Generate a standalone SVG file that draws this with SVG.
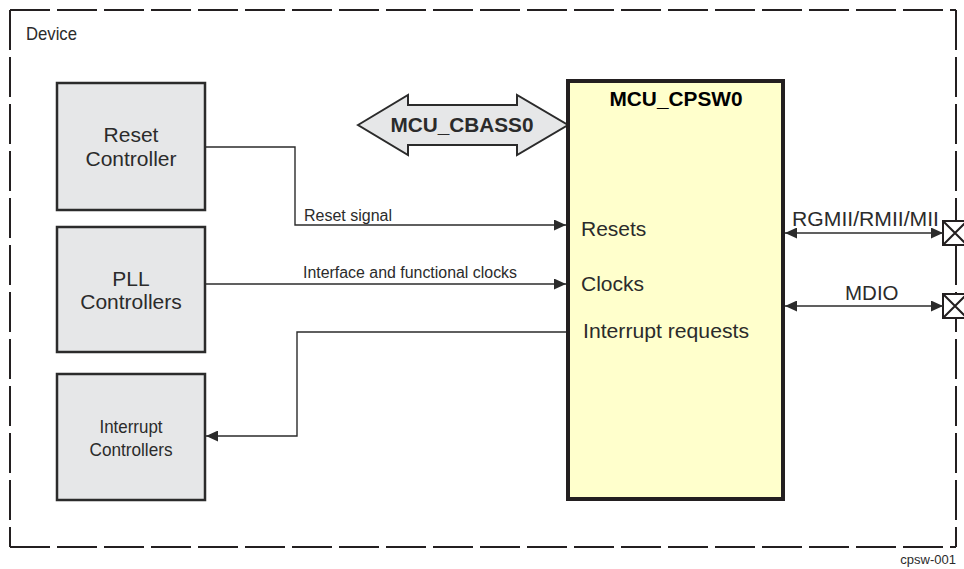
<svg xmlns="http://www.w3.org/2000/svg" width="964" height="569" viewBox="0 0 964 569">
<defs>
<style>
.t{font-family:"Liberation Sans",Arial,sans-serif;fill:#2b2b2b}
.box{fill:#e6e7e8;stroke:#2b2b2b;stroke-width:2.5}
.conn{fill:none;stroke:#2b2b2b;stroke-width:1.4}
.dash{fill:none;stroke:#231f20;stroke-width:2;stroke-dasharray:40 7}
.xb{fill:#fff;stroke:#231f20;stroke-width:2}
</style>
<marker id="ah" viewBox="0 0 12 11" refX="12" refY="5.5" markerWidth="12" markerHeight="11" markerUnits="userSpaceOnUse" orient="auto-start-reverse">
<path d="M0,0 L12,5.5 L0,11 z" fill="#2b2b2b"/>
</marker>
</defs>
<rect width="964" height="569" fill="#fff"/>

<g id="device">
<line class="dash" x1="10" y1="10" x2="956" y2="10"/>
<line class="dash" x1="10" y1="10" x2="10" y2="547"/>
<line class="dash" x1="10" y1="547" x2="956" y2="547"/>
<line class="dash" x1="956" y1="10" x2="956" y2="547"/>
<text class="t" x="26" y="40" font-size="18.5" textLength="51" lengthAdjust="spacingAndGlyphs">Device</text>
</g>

<g id="reset-controller">
<rect class="box" x="57" y="83" width="148" height="127"/>
<text class="t" x="131" y="142" font-size="21" text-anchor="middle">Reset</text>
<text class="t" x="131" y="166" font-size="21" text-anchor="middle">Controller</text>
</g>

<g id="pll-controllers">
<rect class="box" x="57" y="227" width="148" height="125"/>
<text class="t" x="131" y="286" font-size="21" text-anchor="middle">PLL</text>
<text class="t" x="131" y="309" font-size="21" text-anchor="middle">Controllers</text>
</g>

<g id="interrupt-controllers">
<rect class="box" x="57" y="374" width="148" height="126"/>
<text class="t" x="131" y="433" font-size="18.5" text-anchor="middle" textLength="63" lengthAdjust="spacingAndGlyphs">Interrupt</text>
<text class="t" x="131" y="456" font-size="18.5" text-anchor="middle" textLength="83" lengthAdjust="spacingAndGlyphs">Controllers</text>
</g>

<g id="mcu-cbass0">
<polygon points="358,125 408,95 408,105 517,105 517,95 568,125 517,155 517,145 408,145 408,155" fill="#e6e7e8" stroke="#2b2b2b" stroke-width="2" stroke-linejoin="miter"/>
<text class="t" x="462" y="132" font-size="20.5" font-weight="bold" text-anchor="middle" fill="#231f20" textLength="143" lengthAdjust="spacingAndGlyphs">MCU_CBASS0</text>
</g>

<g id="mcu-cpsw0">
<rect x="568" y="81" width="215" height="418" fill="#ffffcc" stroke="#231f20" stroke-width="4"/>
<text class="t" x="676" y="106" font-size="20.5" font-weight="bold" text-anchor="middle" style="fill:#000" textLength="133" lengthAdjust="spacingAndGlyphs">MCU_CPSW0</text>
<text class="t" x="581" y="236" font-size="21">Resets</text>
<text class="t" x="581" y="291" font-size="21">Clocks</text>
<text class="t" x="583" y="338" font-size="21" textLength="166" lengthAdjust="spacingAndGlyphs">Interrupt requests</text>
</g>

<g id="port-rgmii">
<rect class="xb" x="943" y="221" width="24" height="24"/>
<path d="M943,221 L967,245 M967,221 L943,245" stroke="#231f20" stroke-width="2"/>
</g>
<g id="port-mdio">
<rect class="xb" x="943" y="294" width="24" height="24"/>
<path d="M943,294 L967,318 M967,294 L943,318" stroke="#231f20" stroke-width="2"/>
</g>

<g id="connectors">
<polyline class="conn" points="205,147 295,147 295,225 566,225" marker-end="url(#ah)"/>
<text class="t" x="304" y="221" font-size="16" textLength="88" lengthAdjust="spacingAndGlyphs">Reset signal</text>
<line class="conn" x1="205" y1="284" x2="566" y2="284" marker-end="url(#ah)"/>
<text class="t" x="303" y="278" font-size="16" textLength="214" lengthAdjust="spacingAndGlyphs">Interface and functional clocks</text>
<polyline class="conn" points="566,332 297,332 297,436 206,436" marker-end="url(#ah)"/>
<line class="conn" x1="785" y1="233" x2="943" y2="233" stroke-width="2" marker-start="url(#ah)" marker-end="url(#ah)"/>
<text class="t" x="792" y="226" font-size="20.5" textLength="147" lengthAdjust="spacingAndGlyphs">RGMII/RMII/MII</text>
<line class="conn" x1="785" y1="306" x2="943" y2="306" stroke-width="2" marker-start="url(#ah)" marker-end="url(#ah)"/>
<text class="t" x="845" y="300" font-size="20.5">MDIO</text>
</g>

<text class="t" x="956" y="564" font-size="13" text-anchor="end">cpsw-001</text>
</svg>
